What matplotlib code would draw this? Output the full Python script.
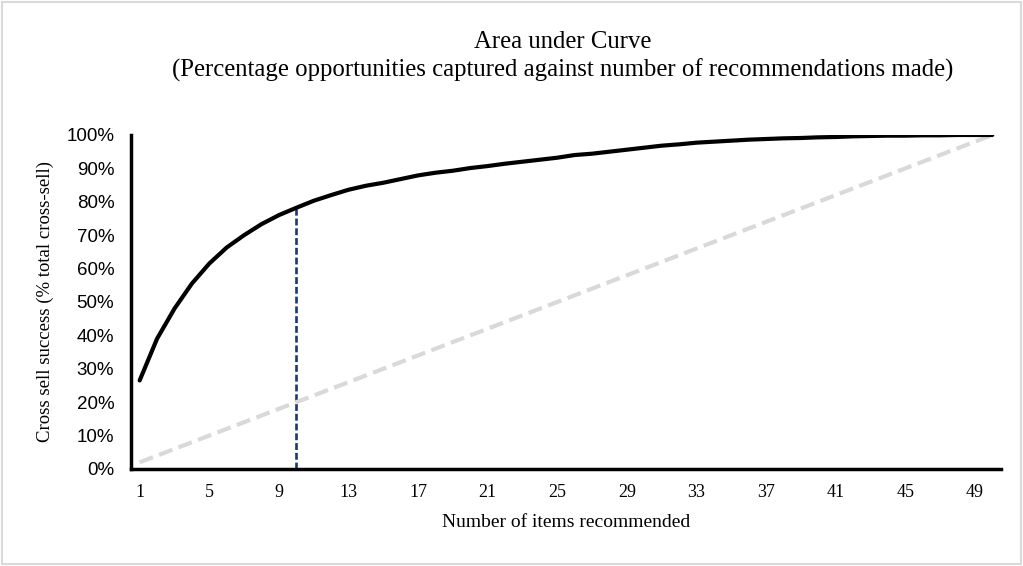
import numpy as np
import matplotlib.pyplot as plt
from matplotlib.patches import Rectangle
from matplotlib.ticker import PercentFormatter

# number of items recommended (category axis 1..50)
items = list(range(1, 51))

# share of total cross-sell captured (%)
captured = [26.5, 39.0, 48.0, 55.5, 61.5, 66.3, 70.0, 73.3, 76.0, 78.2,
            80.3, 82.0, 83.6, 84.8, 85.7, 86.8, 87.9, 88.7, 89.3, 90.1,
            90.7, 91.4, 92.0, 92.6, 93.2, 94.0, 94.4, 95.0, 95.6, 96.2,
            96.8, 97.2, 97.7, 98.0, 98.3, 98.6, 98.8, 99.0, 99.1, 99.3,
            99.4, 99.6, 99.7, 99.8, 99.8, 99.9, 99.9, 100.0, 100.0, 100.0]

# random baseline: straight line to 100%
baseline = [2.0 * n for n in items]

cutoff = 10
tick_items = list(range(1, 50, 4))

serif = "Liberation Serif"
sans = "Liberation Sans"

fig = plt.figure(figsize=(10.23, 5.66), dpi=100)
ax = fig.add_axes([0.128, 0.1714, 0.8505, 0.5901])

ax.plot(items, baseline, color="#D9D9D9", lw=3, ls=(0, (3.4, 1.6)), solid_capstyle="round", zorder=2)
ax.plot(items, captured, color="black", lw=3, solid_capstyle="round", zorder=3)
ax.vlines(cutoff, 0, captured[cutoff - 1], color="#1F3864", lw=1.9, linestyles=(0, (2.6, 1.1)), zorder=1)

ax.set_xlim(0.5, 50.5)
ax.set_ylim(0, 100)
ax.set_xticks(tick_items)
ax.set_xticklabels([str(t) for t in tick_items], fontfamily=serif, fontsize=13)
ax.set_yticks(range(0, 101, 10))
ax.yaxis.set_major_formatter(PercentFormatter(decimals=0))
for lab in ax.get_yticklabels():
    lab.set_fontfamily(sans)
    lab.set_fontsize(13.5)
ax.tick_params(axis="both", length=0)
ax.tick_params(axis="x", pad=11)
ax.tick_params(axis="y", pad=12)

for side in ["top", "right"]:
    ax.spines[side].set_visible(False)
for side in ["left", "bottom"]:
    ax.spines[side].set_linewidth(2.5)
    ax.spines[side].set_color("black")

ax.set_xlabel("Number of items recommended", fontfamily=serif, fontsize=14, labelpad=9)
ax.set_ylabel("Cross sell success (% total cross-sell)", fontfamily=serif, fontsize=13.5, labelpad=9)

fig.text(0.550, 0.925, "Area under Curve", ha="center", va="center", fontfamily=serif, fontsize=17.8)
fig.text(0.550, 0.876, "(Percentage opportunities captured against number of recommendations made)",
         ha="center", va="center", fontfamily=serif, fontsize=17.8)

# chart area border
fig.patches.append(Rectangle((0.002, 0.003), 0.996, 0.994, transform=fig.transFigure,
                             fill=False, edgecolor="#D9D9D9", lw=1.5))

fig.savefig("out.png", dpi=100)
